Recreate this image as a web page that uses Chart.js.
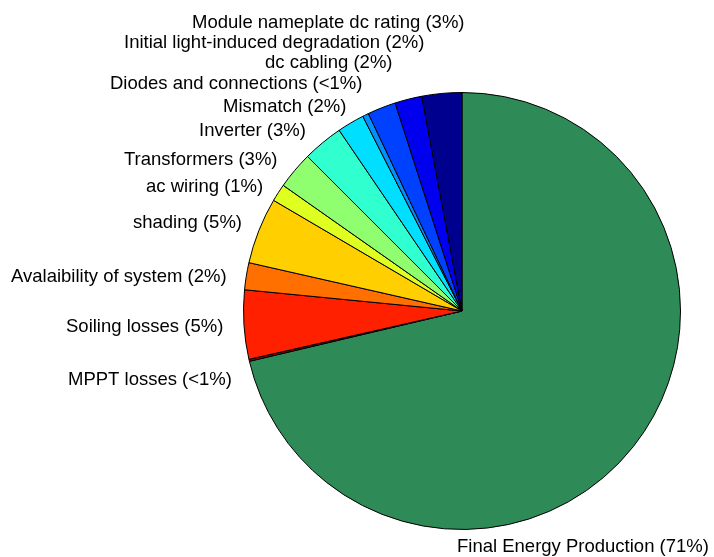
<!DOCTYPE html>
<html>
<head>
<meta charset="utf-8">
<title>PV system losses</title>
<script src="https://cdn.jsdelivr.net/npm/chart.js@4/dist/chart.umd.min.js"></script>
<style>
  html, body { margin: 0; padding: 0; background: #fff; }
  #wrap { width: 714px; height: 557px; }
</style>
</head>
<body>
<div id="wrap"><canvas id="pie" width="714" height="557"></canvas></div>
<script>
// ── Data (clockwise from 12 o'clock) ────────────────────────────────
const sliceLabels = [
  'Final Energy Production (71%)',
  'MPPT losses (<1%)',
  'Soiling losses (5%)',
  'Avalaibility of system (2%)',
  'shading (5%)',
  'ac wiring (1%)',
  'Transformers (3%)',
  'Inverter (3%)',
  'Mismatch (2%)',
  'Diodes and connections (<1%)',
  'dc cabling (2%)',
  'Initial light-induced degradation (2%)',
  'Module nameplate dc rating (3%)'
];
const sliceValues = [71.3, 0.15, 5.1, 2.0, 4.9, 1.3, 2.75, 3.0, 2.0, 0.45, 2.1, 2.0, 2.95];
const sliceColors = [
  '#2E8B57', '#9F0000', '#FF2000', '#FF7000', '#FFCF00', '#DFFF20',
  '#8FFF70', '#30FFCF', '#00DFFF', '#0090FF', '#0040FF', '#0000EF', '#00008F'
];

// ── Label layout (left edge x, middle y) ────────────────────────────
const labelPos = [
  [457, 547], [68, 380], [66, 327], [11, 277], [133, 223], [146, 187], [124, 160],
  [199, 131], [223, 107], [110, 84], [265, 63], [124, 43], [192, 23]
];

// draws the text labels next to the pie
const pieLabels = {
  id: 'pieLabels',
  afterDraw(chart) {
    const ctx = chart.ctx;
    ctx.save();
    ctx.fillStyle = '#000';
    ctx.font = '18.5px "Liberation Sans", Arial, sans-serif';
    ctx.textBaseline = 'middle';
    ctx.textAlign = 'left';
    for (let i = 0; i < sliceLabels.length; i++) {
      ctx.fillText(sliceLabels[i], labelPos[i][0], labelPos[i][1]);
    }
    ctx.restore();
  }
};

new Chart(document.getElementById('pie'), {
  type: 'pie',
  data: {
    labels: sliceLabels,
    datasets: [{
      data: sliceValues,
      backgroundColor: sliceColors,
      borderColor: '#000',
      borderWidth: 1
    }]
  },
  options: {
    responsive: false,
    animation: false,
    layout: { padding: { left: 243, right: 33, top: 92, bottom: 27 } },
    plugins: {
      legend: { display: false },
      tooltip: { enabled: false }
    }
  },
  plugins: [pieLabels]
});
</script>
</body>
</html>
